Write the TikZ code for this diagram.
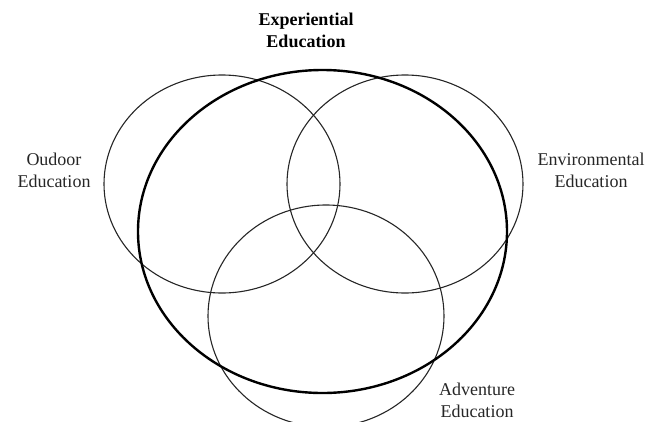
\documentclass[tikz,border=0pt]{standalone}
\usepackage{fontspec}
\setmainfont{Liberation Serif}
\begin{document}
\begin{tikzpicture}[x=1pt,y=-1pt,
  thin circle/.style={draw=black!85, line width=1.1pt},
  thick circle/.style={draw=black, line width=2.4pt},
  lbl/.style={align=center, inner sep=0pt, text=black!85, font=\fontsize{18}{22}\selectfont},
  boldlbl/.style={lbl, text=black, font=\fontsize{18}{22}\selectfont\bfseries}]
\useasboundingbox (0,0) rectangle (654,421);
\begin{scope}
\clip (0,0) rectangle (654,421);
\draw[thin circle] (222,184) ellipse [x radius=118pt, y radius=109pt];
\draw[thin circle] (405,184) ellipse [x radius=118pt, y radius=109pt];
\draw[thin circle] (326,316) ellipse [x radius=118pt, y radius=111pt];
\draw[thick circle] (322.5,231.5) ellipse [x radius=184.5pt, y radius=161.5pt];
\end{scope}
\node[boldlbl] (exp) at (306,30) {Experiential\\Education};
\node[lbl] (out) at (54,170) {Oudoor\\Education};
\node[lbl] (env) at (591,170) {Environmental\\Education};
\node[lbl] (adv) at (477,400) {Adventure\\Education};
\end{tikzpicture}
\end{document}
